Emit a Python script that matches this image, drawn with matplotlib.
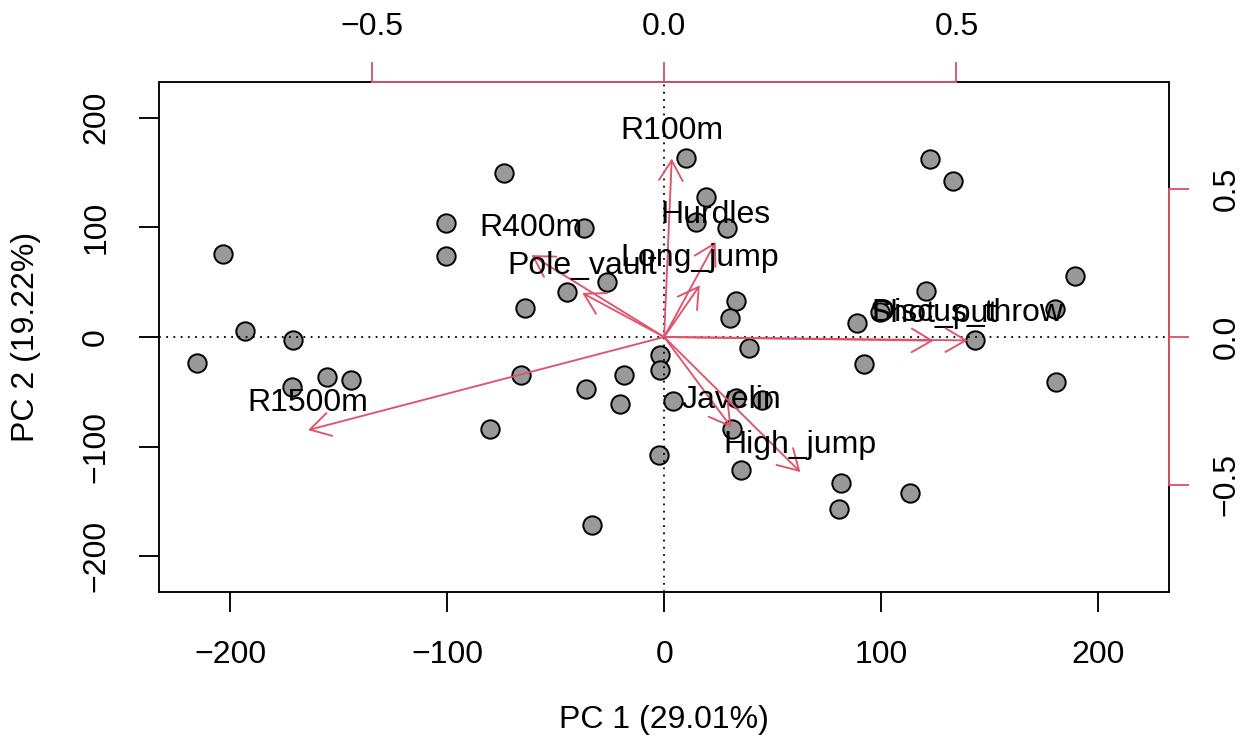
import matplotlib.pyplot as plt
import numpy as np

plt.rcParams['font.family'] = ['Liberation Sans', 'DejaVu Sans']

# scores of each athlete on PC1 / PC2
pc1 = [-203.2, -193.3, -215.5, -171.0, -171.5, -155.2, -144.5, -100.4, -100.4, -74.0,
       -80.4, -64.3, -65.8, -36.9, -44.7, -26.4, -35.9, -18.7, -20.5, -33.4,
       -2.1, -2.1, -2.5, 10.1, 19.4, 14.8, 28.9, 33.3, 30.5, 38.9,
       4.2, 33.0, 44.9, 31.4, 35.6, 81.7, 80.4, 113.5, 91.9, 89.0,
       99.3, 120.5, 122.4, 132.9, 189.2, 180.3, 180.4, 143.4]
pc2 = [76.0, 5.3, -23.3, -2.5, -45.5, -36.4, -38.8, 103.6, 73.7, 149.5,
       -83.5, 26.3, -34.2, 99.3, 40.9, 50.0, -47.0, -34.9, -60.7, -171.7,
       -16.6, -29.8, -107.8, 163.4, 127.8, 105.0, 99.0, 32.9, 16.9, -10.2,
       -58.6, -55.8, -57.7, -83.5, -121.5, -133.1, -156.5, -142.2, -24.2, 12.9,
       22.6, 42.1, 162.2, 142.2, 55.5, 25.1, -41.2, -2.9]

# variable loadings
variables = ['R100m', 'Hurdles', 'Long_jump', 'R400m', 'Pole_vault',
             'Javelin', 'High_jump', 'Shot_put', 'Discus_throw', 'R1500m']
load1 = [0.013, 0.088, 0.061, -0.227, -0.140, 0.115, 0.233, 0.461, 0.519, -0.609]
load2 = [0.604, 0.322, 0.175, 0.277, 0.149, -0.306, -0.457, -0.0125, -0.0115, -0.315]

var_pc1, var_pc2 = 29.01, 19.22

red = '#DF536B'
lw = 1.35
fs = 23
score_lim = 232.8
load_lim = 0.864

fig = plt.figure(figsize=(12.48, 7.45), dpi=100)
pos = [159 / 1248, 1 - 592.3 / 745, (1169.3 - 159) / 1248, (592.3 - 81.7) / 745]

# scores
ax = fig.add_axes(pos)
ax.scatter(pc1, pc2, s=175, c='#999999', edgecolors='black', linewidths=1.4, zorder=3)
ax.set_xlim(-score_lim, score_lim)
ax.set_ylim(-score_lim, score_lim)
ticks = [-200, -100, 0, 100, 200]
ax.set_xticks(ticks)
ax.set_yticks(ticks)
ax.tick_params(direction='out', length=14.4, width=lw, labelsize=fs)
ax.tick_params(axis='x', pad=20)
ax.tick_params(axis='y', pad=20)
for t in ax.get_yticklabels():
    t.set_rotation(90)
    t.set_va('center')
for s in ax.spines.values():
    s.set_linewidth(lw)

# loadings on their own scale
ax2 = fig.add_axes(pos)
ax2.patch.set_visible(False)
ax2.set_xlim(-load_lim, load_lim)
ax2.set_ylim(-load_lim, load_lim)
ax2.axhline(0, color='black', lw=1.3, ls=(0, (1, 3)))
ax2.axvline(0, color='black', lw=1.3, ls=(0, (1, 3)))
for x, y, name in zip(load1, load2, variables):
    ax2.annotate('', xy=(x, y), xytext=(0, 0),
                 arrowprops=dict(arrowstyle='->,head_length=1.45,head_width=0.85',
                                 color=red, lw=lw, shrinkA=0, shrinkB=0,
                                 mutation_scale=10))
    ax2.annotate(name, xy=(x, y), xytext=(0, 13.7), textcoords='offset points',
                 ha='center', va='baseline', fontsize=fs, color='black')

lt = [-0.5, 0.0, 0.5]
ax2.set_xticks(lt)
ax2.set_yticks(lt)
ax2.set_xticklabels(['\u22120.5', '0.0', '0.5'])
ax2.set_yticklabels(['\u22120.5', '0.0', '0.5'])
ax2.xaxis.tick_top()
ax2.yaxis.tick_right()
ax2.tick_params(direction='out', length=14.4, width=lw, colors=red,
                labelcolor='black', labelsize=fs)
ax2.tick_params(axis='x', pad=14)
ax2.tick_params(axis='y', pad=16)
for t in ax2.get_yticklabels():
    t.set_rotation(90)
    t.set_va('center')
ax2.spines['left'].set_visible(False)
ax2.spines['bottom'].set_visible(False)
for side in ['top', 'right']:
    ax2.spines[side].set_bounds(-0.5, 0.5)
    ax2.spines[side].set_color(red)
    ax2.spines[side].set_linewidth(lw)

fig.text(664 / 1248, 1 - 720 / 745, f'PC 1 ({var_pc1:.2f}%)',
         ha='center', va='center', fontsize=fs)
fig.text(26 / 1248, 1 - 337 / 745, f'PC 2 ({var_pc2:.2f}%)',
         ha='center', va='center', rotation=90, fontsize=fs)

fig.savefig('out.png', dpi=100)
